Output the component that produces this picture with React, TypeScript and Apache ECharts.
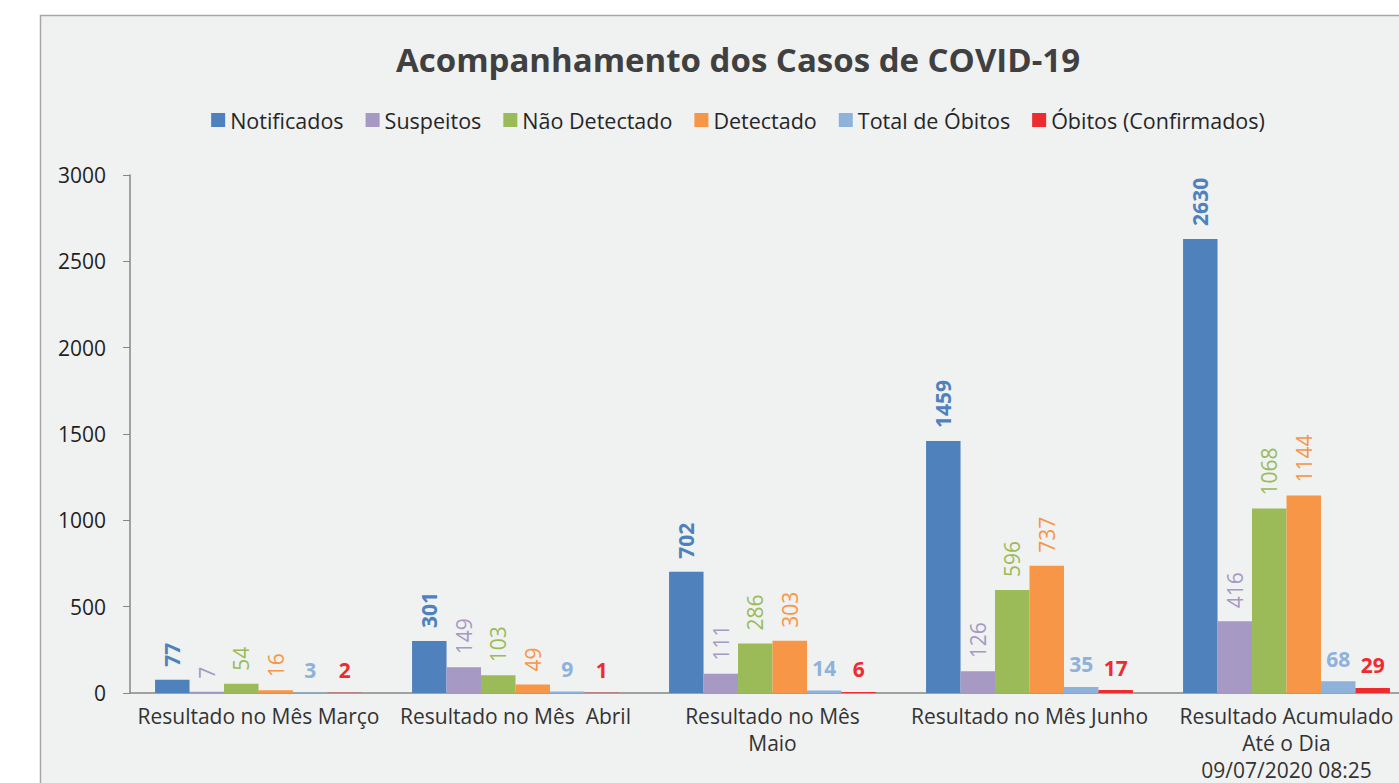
import React, { useEffect, useRef } from "react";
import * as echarts from "echarts";

const categories = [
  "Resultado no Mês Março",
  "Resultado no Mês  Abril",
  "Resultado no Mês\nMaio",
  "Resultado no Mês Junho",
  "Resultado Acumulado\nAté o Dia\n09/07/2020 08:25",
];
const notificados = [77, 301, 702, 1459, 2630];
const suspeitos = [7, 149, 111, 126, 416];
const naoDetectado = [54, 103, 286, 596, 1068];
const detectado = [16, 49, 303, 737, 1144];
const totalObitos = [3, 9, 14, 35, 68];
const obitosConfirmados = [2, 1, 6, 17, 29];

const FONT = "'Open Sans', 'Noto Sans', sans-serif";

export default function App() {
  const ref = useRef<HTMLDivElement>(null);
  useEffect(() => {
    if (!ref.current) return;
    const chart = echarts.init(ref.current, undefined, { renderer: "svg" });
    const mk = (
      name: string,
      data: number[],
      color: string,
      labelColor: string,
      rotated: boolean,
      bold: boolean
    ) => ({
      name,
      type: "bar",
      data,
      barGap: "0%",
      barCategoryGap: "19.5%",
      itemStyle: { color },
      label: rotated
        ? {
            show: true,
            position: "top",
            rotate: 90,
            align: "left",
            verticalAlign: "middle",
            distance: 13,
            color: labelColor,
            fontSize: 21,
            fontWeight: bold ? "bold" : "normal",
            fontFamily: FONT,
          }
        : {
            show: true,
            position: "top",
            distance: 12,
            color: labelColor,
            fontSize: 21,
            fontWeight: bold ? "bold" : "normal",
            fontFamily: FONT,
          },
    });
    chart.setOption({
      animation: false,
      backgroundColor: "#ffffff",
      graphic: [
        {
          type: "rect",
          z: -10,
          silent: true,
          shape: { x: 40.5, y: 15.5, width: 1395, height: 900 },
          style: { fill: "#f0f1f1", stroke: "#a6a6a6", lineWidth: 1.5 },
        },
      ],
      title: {
        text: "Acompanhamento dos Casos de COVID-19",
        left: "center",
        top: 38,
        textStyle: {
          fontFamily: FONT,
          fontSize: 33,
          fontWeight: "bold",
          color: "#404040",
        },
      },
      legend: {
        top: 104,
        left: "center",
        icon: "rect",
        itemWidth: 14,
        itemHeight: 14,
        itemGap: 22,
        textStyle: { fontFamily: FONT, fontSize: 21.5, color: "#262626", padding: [0, 0, 0, 0] },
        data: [
          "Notificados",
          "Suspeitos",
          "Não Detectado",
          "Detectado",
          "Total de Óbitos",
          "Óbitos (Confirmados)",
        ],
      },
      grid: { left: 130, right: 61, top: 175, bottom: 107, containLabel: false },
      xAxis: {
        type: "category",
        data: categories,
        axisLine: { lineStyle: { color: "#868686", width: 1.5 } },
        axisTick: { show: false },
        axisLabel: {
          fontFamily: FONT,
          fontSize: 21,
          color: "#333333",
          margin: 9,
          lineHeight: 27,
          interval: 0,
        },
      },
      yAxis: {
        type: "value",
        min: 0,
        max: 3000,
        interval: 500,
        splitLine: { show: false },
        axisLine: { show: true, lineStyle: { color: "#868686", width: 1.5 } },
        axisTick: { show: true, length: 7, lineStyle: { color: "#868686" } },
        axisLabel: {
          fontFamily: FONT,
          fontSize: 21,
          fontWeight: 500,
          color: "#1f1f1f",
          margin: 24,
          formatter: (v: number) => String(v),
        },
      },
      series: [
        mk("Notificados", notificados, "#4f81bd", "#4f81bd", true, true),
        mk("Suspeitos", suspeitos, "#a699c3", "#a699c3", true, false),
        mk("Não Detectado", naoDetectado, "#9bbb59", "#9bbb59", true, false),
        mk("Detectado", detectado, "#f79646", "#f79646", true, false),
        mk("Total de Óbitos", totalObitos, "#8eb2da", "#8eb2da", false, true),
        mk("Óbitos (Confirmados)", obitosConfirmados, "#ee2b2f", "#ee2b2f", false, true),
      ],
    });
    return () => chart.dispose();
  }, []);
  return (
    <div
      style={{
        position: "fixed",
        left: 0,
        top: 0,
        width: 1399,
        height: 783,
        overflow: "hidden",
        background: "#fff",
      }}
    >
      <div ref={ref} style={{ width: 1476, height: 800 }} />
    </div>
  );
}
